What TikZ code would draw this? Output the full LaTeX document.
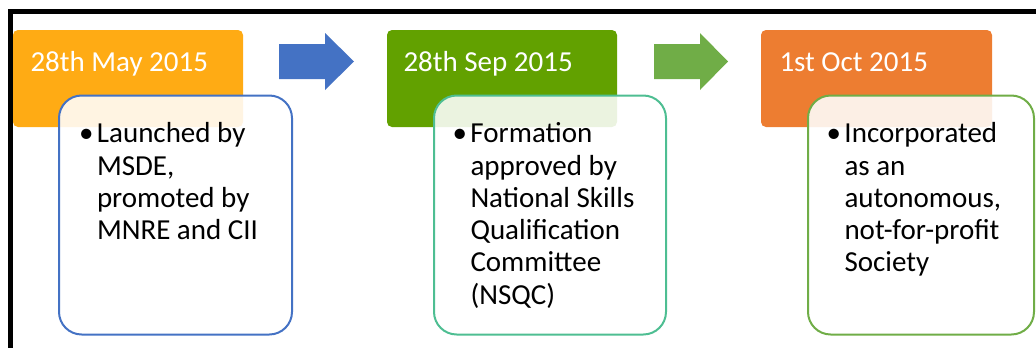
\documentclass[tikz,border=0pt]{standalone}
\usepackage{fontspec}
\setmainfont{Carlito}

\definecolor{mayorange}{RGB}{255,171,20}
\definecolor{sepgreen}{RGB}{98,161,0}
\definecolor{octorange}{RGB}{237,125,49}
\definecolor{arrowblue}{RGB}{68,114,196}
\definecolor{arrowgreen}{RGB}{112,173,71}
\definecolor{edgeteal}{RGB}{78,190,146}

\tikzset{every picture/.style={line width=0.75pt}}
\tikzset{
  datebox/.style={rounded corners=3.75pt},
  notebox/.style={rounded corners=17pt, line width=1.5pt, fill=white, fill opacity=0.88},
  datetext/.style={anchor=base west, inner sep=0pt, text=white, font=\fontsize{21.75}{24.2}\selectfont},
  notetext/.style={anchor=base west, inner sep=0pt, align=left, font=\fontsize{21.75}{24.2}\selectfont},
}
\newcommand{\notebullet}{\llap{\textbullet\hspace{2.5pt}}}

\begin{document}
\begin{tikzpicture}[x=0.75pt,y=0.75pt,yscale=-1,xscale=1]
\useasboundingbox (0,0) rectangle (1036,347);

%Shape: Frame
\draw [line width=3.75pt] (10.5,352) -- (10.5,11.5) -- (1045,11.5) ;

%Shape: Rounded Rectangle [date 1]
\fill [mayorange, datebox] (13,30) rectangle (243,127) ;
%Shape: Rounded Rectangle [date 2]
\fill [sepgreen, datebox] (387,30) rectangle (617,127) ;
%Shape: Rounded Rectangle [date 3]
\fill [octorange, datebox] (761,30) rectangle (992,127) ;

%Shape: Right Arrow [blue]
\fill [arrowblue] (279,44) -- (325,44) -- (325,33) -- (354,61.5) -- (325,90) -- (325,79) -- (279,79) -- cycle ;
%Shape: Right Arrow [green]
\fill [arrowgreen] (654,44) -- (700,44) -- (700,33) -- (728,61.5) -- (700,90) -- (700,79) -- (654,79) -- cycle ;

%Shape: Rounded Rectangle [note 1]
\draw [arrowblue, notebox] (59,95.5) rectangle (292,334.5) ;
%Shape: Rounded Rectangle [note 2]
\draw [edgeteal, notebox] (434,95.5) rectangle (666,334.5) ;
%Shape: Rounded Rectangle [note 3]
\draw [arrowgreen, notebox] (808,95.5) rectangle (1034,334.5) ;

% Text Node
\node (may) [datetext] at (30,71.7) {28th May 2015};
% Text Node
\node (sep) [datetext] at (403,71.7) {28th Sep 2015};
% Text Node
\node (oct) [datetext] at (779,71.7) {1st Oct 2015};

% Text Node (anchored at the baseline of the last line)
\node (launch) [notetext] at (96.5,239.6) {\notebullet Launched by\\MSDE,\\promoted by\\MNRE and CII};
% Text Node
\node (formation) [notetext] at (470,304.2) {\notebullet Formation\\approved by\\National Skills\\Qualification\\Committee\\(NSQC)};
% Text Node
\node (society) [notetext] at (844,271.9) {\notebullet Incorporated\\as an\\autonomous,\\not-for-profit\\Society};

\end{tikzpicture}
\end{document}
